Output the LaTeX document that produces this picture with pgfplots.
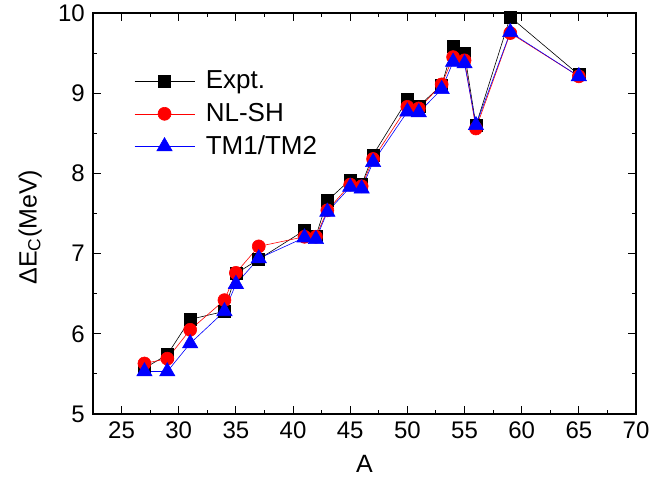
\documentclass[border=0pt]{standalone}
\usepackage{fontspec}
\setmainfont{Liberation Sans}
\usepackage{pgfplots}
\pgfplotsset{compat=1.18}

\begin{document}
\fontsize{24}{28}\selectfont
\begin{tikzpicture}
\begin{axis}[
  scale only axis, width=543pt, height=401pt,
  xmin=22.5, xmax=70, ymin=5, ymax=10,
  xtick={25,30,...,70}, ytick={5,6,...,10},
  minor x tick num=1, minor y tick num=1,
  tick pos=both, tick align=inside,
  major tick length=8pt, minor tick length=4pt,
  axis line style={line width=1.2pt},
  every tick/.style={black, line width=1pt},
  /pgf/number format/assume math mode=true,
  tick label style={font=\fontsize{24}{28}\selectfont},
  label style={font=\fontsize{25}{29}\selectfont},
  xlabel={A}, ylabel={ΔE\textsubscript{C}(MeV)},
  ylabel style={at={(ticklabel cs:0.466)}},
  legend style={draw=none, fill=none, at={(rel axis cs:0.07,0.866)}, anchor=north west,
    font=\fontsize{26}{30}\selectfont, row sep=6.5pt,
    /tikz/every odd column/.append style={column sep=9pt}},
  legend cell align=left,
  legend image code/.code={\draw[mark repeat=2,mark phase=2,#1] plot coordinates {(0pt,0pt) (30pt,0pt) (60pt,0pt)};},
]
\addplot[black, line width=0.6pt, mark=square*, mark size=6pt, mark options={solid, fill=black}] coordinates {
(27,5.57) (29,5.74) (31,6.18) (34,6.28) (35,6.75) (37,6.93) (41,7.29) (42,7.22) (43,7.66)
(45,7.92) (46,7.86) (47,8.23) (50,8.92) (51,8.84) (53,9.10) (54,9.58) (55,9.50) (56,8.60)
(59,9.95) (65,9.23)};
\addlegendentry{Expt.}
\addplot[red, line width=0.6pt, mark=*, mark size=6.5pt, mark options={solid, fill=red}] coordinates {
(27,5.63) (29,5.69) (31,6.05) (34,6.42) (35,6.76) (37,7.09) (41,7.21) (42,7.21) (43,7.54)
(45,7.86) (46,7.84) (47,8.18) (50,8.83) (51,8.81) (53,9.11) (54,9.45) (55,9.41) (56,8.56)
(59,9.75) (65,9.21)};
\addlegendentry{NL-SH}
\addplot[blue, line width=0.6pt, mark=triangle*, mark size=8.8pt, mark options={solid, fill=blue}] coordinates {
(27,5.53) (29,5.53) (31,5.88) (34,6.28) (35,6.62) (37,6.94) (41,7.20) (42,7.18) (43,7.52)
(45,7.83) (46,7.81) (47,8.14) (50,8.77) (51,8.76) (53,9.05) (54,9.39) (55,9.37) (56,8.60)
(59,9.76) (65,9.21)};
\addlegendentry{TM1/TM2}
\end{axis}
\pgfresetboundingbox
\path (current axis.south west) ++(-93pt,-76pt) rectangle ++(650pt,490pt);
\end{tikzpicture}
\end{document}
